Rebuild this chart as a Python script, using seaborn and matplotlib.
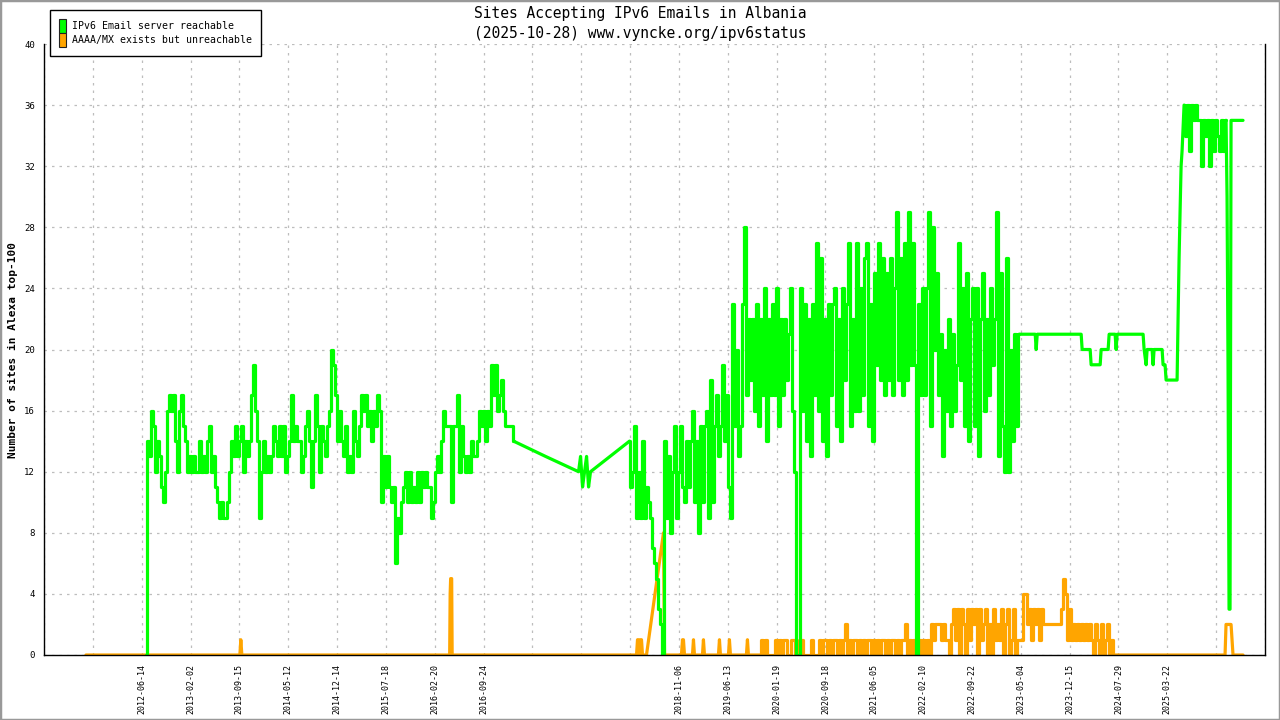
import numpy as np
import pandas as pd
import seaborn as sns
import matplotlib.pyplot as plt
from matplotlib.patches import Patch, Rectangle

# x runs in "tick units": tick k sits at x = k (26 ticks, 0..25)
tick_labels = ["", "", "2012-06-14", "2013-02-02", "2013-09-15", "2014-05-12",
               "2014-12-14", "2015-07-18", "2016-02-20", "2016-09-24", "", "", "",
               "2018-11-06", "2019-06-13", "2020-01-19", "2020-09-18", "2021-06-05",
               "2022-02-10", "2022-09-22", "2023-05-04", "2023-12-15", "2024-07-29",
               "2025-03-22", "", ""]
y_ticks = list(range(0, 41, 4))

reach_name = "IPv6 Email server reachable"
unreach_name = "AAAA/MX exists but unreachable"

# --- reachable (green) ---
# evenly sampled stretch 2012 -> 2016
reach_a_span = (2.087, 9.615)
reach_a = [0, 14, 13, 16, 15, 12, 14, 13, 11, 10, 12, 16, 17, 16, 17, 14, 12, 16, 17, 15,
           14, 12, 13, 12, 13, 12, 12, 14, 12, 13, 12, 14, 15, 12, 13, 11, 10, 9, 10, 9,
           9, 10, 12, 14, 13, 15, 13, 14, 15, 12, 14, 13, 14, 17, 19, 16, 14, 9, 12, 14,
           12, 13, 12, 13, 15, 14, 13, 15, 13, 15, 12, 13, 14, 17, 14, 15, 14, 14, 12, 13,
           15, 16, 14, 11, 14, 17, 15, 12, 15, 14, 13, 15, 16, 20, 19, 17, 14, 16, 14, 13,
           15, 12, 13, 12, 16, 14, 13, 15, 17, 16, 17, 15, 16, 14, 16, 15, 17, 16, 10, 13,
           11, 13, 11, 10, 11, 6, 9, 8, 10, 11, 12, 10, 12, 10, 11, 10, 12, 10, 12, 11,
           12, 11, 11, 9, 10, 12, 13, 12, 14, 16, 15, 15, 15, 10, 15, 15, 17, 12, 15, 13,
           12, 13, 12, 14, 13, 13, 14, 16, 15, 16, 14, 16, 15, 19, 17, 19, 16, 17, 18, 16,
           15, 15, 15, 15, 14]
# sparse samples 2016 -> 2018
reach_b_x = [10.27, 10.945, 10.986, 11.027, 11.068, 11.109, 11.15, 11.19]
reach_b_y = [13, 12, 13, 11, 12, 13, 11, 12]
# evenly sampled stretch 2018 -> 2023
reach_c_span = (11.988, 19.967)
reach_c = [14, 11, 12, 15, 9, 12, 9, 14, 9, 11, 10, 9, 7, 6, 5, 3, 2, 0, 14, 9,
           13, 8, 12, 15, 9, 12, 15, 11, 10, 14, 11, 14, 16, 10, 14, 8, 15, 10, 15, 16,
           9, 18, 10, 15, 17, 13, 15, 19, 14, 17, 11, 9, 23, 15, 20, 13, 15, 23, 28, 17,
           22, 18, 22, 16, 23, 15, 22, 17, 24, 14, 22, 17, 23, 17, 24, 15, 22, 17, 22, 18,
           21, 24, 16, 12, 0, 0, 24, 16, 23, 14, 22, 13, 23, 17, 27, 16, 26, 14, 22, 13,
           23, 17, 23, 24, 15, 22, 14, 24, 18, 23, 27, 15, 22, 16, 27, 16, 24, 17, 26, 27,
           15, 23, 14, 25, 19, 27, 18, 26, 17, 25, 18, 26, 17, 24, 29, 18, 26, 17, 27, 18,
           29, 19, 27, 19, 0, 23, 17, 24, 17, 24, 29, 15, 28, 20, 25, 17, 21, 13, 20, 16,
           22, 15, 21, 16, 19, 27, 18, 24, 15, 25, 14, 22, 24, 15, 24, 13, 22, 25, 16, 22,
           17, 24, 19, 22, 29, 13, 25, 15, 12, 26, 12, 20, 14, 21, 15, 21]
# sparse samples 2023 -> 2025
reach_d_x = [20.295, 20.315, 20.336, 21.236, 21.256, 21.42, 21.44, 21.625, 21.645,
             21.788, 21.809, 21.931, 21.952, 21.972, 22.504, 22.525, 22.566, 22.586,
             22.688, 22.709, 22.729, 22.893, 22.913, 22.954, 22.975, 23.2, 23.22,
             23.241, 23.261, 23.282, 23.302]
reach_d_y = [21, 20, 21, 21, 20, 20, 19, 19, 20, 20, 21, 21, 20, 21, 21, 20, 19, 20,
             20, 19, 20, 20, 19, 19, 18, 18, 22, 26, 29, 32, 33]
reach_e_span = (23.343, 24.202)
reach_e = [36, 34, 36, 33, 36, 35, 36, 35, 35, 32, 35, 34, 35, 32, 35, 33, 35, 34, 33,
           35, 33, 35]
reach_f_x = [24.223, 24.243, 24.264, 24.284, 24.305, 24.55]
reach_f_y = [30, 19, 3, 3, 35, 35]

# --- unreachable (orange) ---
unreach_a_x = [0.859, 4.01, 4.03, 4.051, 8.306, 8.316, 8.326, 8.347, 8.357, 12.132,
               12.152, 12.173, 12.193, 12.213, 12.234, 12.254, 12.336, 12.684, 12.705,
               13.052, 13.073, 13.093, 13.114, 13.277, 13.298, 13.318, 13.482, 13.502,
               13.523, 13.809, 13.83, 13.85, 14.014, 14.034, 14.055, 14.382, 14.403,
               14.423]
unreach_a_y = [0, 0, 1, 0, 0, 4, 5, 5, 0, 0, 1, 1, 0, 1, 1, 0, 0, 8, 0,
               0, 1, 1, 0, 0, 1, 0, 0, 1, 0, 0, 1, 0, 0, 1, 0, 0, 1, 0]
unreach_b_span = (14.669, 21.911)
unreach_b = [0, 1, 0, 1, 0, 0, 0, 0, 1, 0, 1, 0, 1, 1, 0, 0, 1, 1, 0, 0,
             1, 1, 0, 0, 0, 0, 1, 0, 0, 0, 1, 0, 1, 1, 0, 1, 0, 1, 1, 0,
             1, 0, 1, 2, 0, 1, 0, 1, 1, 0, 1, 0, 1, 0, 1, 1, 0, 1, 0, 1,
             0, 1, 1, 0, 1, 0, 1, 1, 0, 1, 0, 1, 1, 2, 0, 1, 0, 1, 1, 0,
             1, 0, 1, 0, 1, 0, 2, 1, 2, 2, 2, 1, 2, 1, 1, 0, 2, 3, 1, 3,
             0, 3, 2, 0, 3, 1, 3, 2, 3, 0, 3, 1, 2, 3, 0, 2, 0, 3, 1, 2,
             1, 3, 0, 2, 3, 0, 1, 3, 0, 1, 1, 1, 4, 4, 2, 3, 1, 3, 2, 3,
             1, 3, 2, 2, 2, 2, 2, 2, 2, 2, 2, 3, 5, 4, 1, 3, 1, 2, 1, 2,
             1, 2, 1, 2, 1, 2, 1, 0, 2, 1, 0, 2, 0, 1, 2, 0, 1, 0]
unreach_c_x = [24.182, 24.202, 24.305, 24.325, 24.345, 24.55]
unreach_c_y = [0, 2, 2, 1, 0, 0]

green = "#00ff00"
orange = "#ffa500"


def even(span, vals):
    return list(np.linspace(span[0], span[1], len(vals)))


def part(series, name, kind, xs, ys):
    return pd.DataFrame({"x": xs, "sites": ys, "series": series, "part": name, "kind": kind})


# dense, evenly sampled stretches are drawn as steps; sparse stretches as straight
# lines joining the neighbouring samples
ra_x, rc_x, re_x = even(reach_a_span, reach_a), even(reach_c_span, reach_c), even(reach_e_span, reach_e)
ub_x = even(unreach_b_span, unreach_b)
df = pd.concat([
    part(unreach_name, "u1", "line", unreach_a_x + ub_x[:1], unreach_a_y + unreach_b[:1]),
    part(unreach_name, "u2", "step", ub_x, unreach_b),
    part(unreach_name, "u3", "line", ub_x[-1:] + unreach_c_x, unreach_b[-1:] + unreach_c_y),
    part(reach_name, "r1", "step", ra_x, reach_a),
    part(reach_name, "r2", "line", ra_x[-1:] + reach_b_x + rc_x[:1],
         reach_a[-1:] + reach_b_y + reach_c[:1]),
    part(reach_name, "r3", "step", rc_x, reach_c),
    part(reach_name, "r4", "line", rc_x[-1:] + reach_d_x + re_x[:1],
         reach_c[-1:] + reach_d_y + reach_e[:1]),
    part(reach_name, "r5", "step", re_x, reach_e),
    part(reach_name, "r6", "line", re_x[-1:] + reach_f_x, reach_e[-1:] + reach_f_y),
], ignore_index=True)

sns.set_style("white")
plt.rcParams["font.family"] = ["DejaVu Sans Mono"]
for key in ["text.color", "axes.labelcolor", "xtick.color", "ytick.color"]:
    plt.rcParams[key] = "black"

W, H = 1280, 720
fig = plt.figure(figsize=(12.8, 7.2), dpi=100)
ax = fig.add_axes([44 / W, 1 - 655 / H, (1265 - 44) / W, (655 - 44) / H])

colors = {reach_name: green, unreach_name: orange}
for series in [unreach_name, reach_name]:
    for kind, style in [("line", "default"), ("step", "steps-mid")]:
        sub = df[(df["series"] == series) & (df["kind"] == kind)]
        sns.lineplot(data=sub, x="x", y="sites", units="part", color=colors[series],
                     estimator=None, sort=False, linewidth=2.3, drawstyle=style,
                     legend=False, ax=ax)

ax.set_xlim(0, 25)
ax.set_ylim(0, 40)
ax.set_xticks(range(len(tick_labels)))
ax.set_xticklabels(tick_labels, rotation=90, fontsize=6)
ax.set_yticks(y_ticks)
ax.set_yticklabels([str(v) for v in y_ticks], fontsize=6.5)
ax.tick_params(direction="inout", length=7, width=1, color="black", pad=3)
ax.set_xlabel("")
ax.set_ylabel("Number of sites in Alexa top-100", fontsize=8, fontweight="bold")
ax.yaxis.set_label_coords(-0.0215, 0.5)

ax.grid(True, color="#bdbdbd", linestyle=(0, (2, 4)), linewidth=0.9)
ax.set_axisbelow(True)
ax.spines["top"].set_visible(False)
for side in ["left", "bottom", "right"]:
    ax.spines[side].set_color("black")
    ax.spines[side].set_linewidth(1)

fig.suptitle("Sites Accepting IPv6 Emails in Albania\n(2025-10-28) www.vyncke.org/ipv6status",
             x=0.5, y=1 - 6 / H, va="top", fontsize=10.5, linespacing=1.4)

handles = [Patch(facecolor=green, edgecolor="#222222", linewidth=0.8),
           Patch(facecolor=orange, edgecolor="#222222", linewidth=0.8)]
fig.legend(handles, [reach_name, unreach_name], loc="upper left",
           bbox_to_anchor=(50 / W, 1 - 10 / H), fontsize=7.1, frameon=True,
           fancybox=False, edgecolor="black", framealpha=1, borderpad=0.9,
           handlelength=0.7, handleheight=1.75, handletextpad=0.6, labelspacing=0.05,
           borderaxespad=0)

fig.add_artist(Rectangle((0, 0), 1, 1, transform=fig.transFigure, fill=False,
                         edgecolor="#999999", linewidth=2.5))

fig.savefig("out.png", dpi=100)
